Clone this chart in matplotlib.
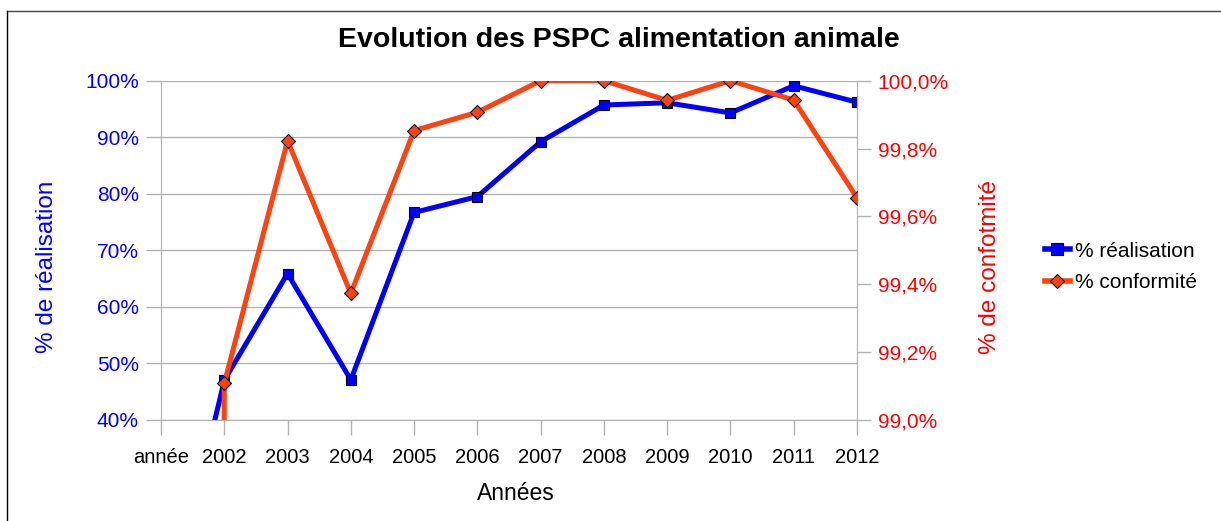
import matplotlib
matplotlib.use("Agg")
import matplotlib.pyplot as plt
from matplotlib.lines import Line2D
from matplotlib.ticker import FuncFormatter

# data
categories = ["année", "2002", "2003", "2004", "2005", "2006", "2007",
              "2008", "2009", "2010", "2011", "2012"]
realisation = [0.0, 47.0, 65.9, 47.1, 76.7, 79.5, 89.2, 95.7, 96.1, 94.3, 99.1, 96.2]
conformite = [0.0, 99.108, 99.823, 99.373, 99.853, 99.907, 100.0, 100.0,
              99.942, 100.0, 99.943, 99.655]

BLUE = "#0000ff"
ORANGE = "#ff420e"
RED = "#ff0000"
GRID = "#b3b3b3"

plt.rcParams['font.family'] = ['Liberation Sans', 'DejaVu Sans']

W, H = 1221, 521
fig = plt.figure(figsize=(W / 100, H / 100), dpi=100)
ax = fig.add_axes([161 / W, 1 - 420 / H, (857 - 161) / W, (420 - 80.7) / H])
ax2 = ax.twinx()

x = list(range(len(categories)))
ax.plot(x, realisation, color=BLUE, lw=3.6, marker="s", ms=6.8,
        mfc=BLUE, mec="black", mew=0.8, zorder=3)
ax2.plot(x, conformite, color=ORANGE, lw=3.6, marker="D", ms=6.8,
         mfc=ORANGE, mec="black", mew=0.8, zorder=3)

ax.set_xlim(0, 11)
ax.set_ylim(40, 100)
ax2.set_ylim(99.0, 100.0)
ax.set_yticks(range(40, 101, 10))
ax2.set_yticks([99.0, 99.2, 99.4, 99.6, 99.8, 100.0])
ax.yaxis.set_major_formatter(FuncFormatter(lambda v, p: "%d%%" % v))
ax2.yaxis.set_major_formatter(FuncFormatter(lambda v, p: ("%.1f%%" % v).replace(".", ",")))

ax.set_xticks(x)
ax.set_xticklabels(categories)
ax.tick_params(axis="x", length=11, width=1, color=GRID, pad=9,
               labelsize=14.5, labelcolor="black")
ax.tick_params(axis="y", length=11, width=1, color=GRID, labelsize=15,
               labelcolor=BLUE, pad=5)
ax2.tick_params(axis="y", length=10, width=1, color=GRID, labelsize=15,
                labelcolor=RED, pad=5)

ax.grid(axis="y", color=GRID, lw=1)
ax.set_axisbelow(True)
for a in (ax, ax2):
    for s in ("left", "right", "bottom"):
        a.spines[s].set_color(GRID)
    a.spines["top"].set_visible(False)

fig.text(47 / W, 1 - 267 / H, "% de réalisation", color=BLUE, fontsize=17.5,
         rotation=90, ha="center", va="center")
fig.text(990 / W, 1 - 267 / H, "% de confotmité", color=RED, fontsize=17.5,
         rotation=90, ha="center", va="center")
fig.text(516 / W, 1 - 494 / H, "Années", fontsize=16.5, ha="center", va="center")

fig.text(619 / W, 1 - 40 / H, "Evolution des PSPC alimentation animale",
         ha="center", va="center", fontsize=20.5, fontweight="bold")

handles = [
    Line2D([], [], color=BLUE, lw=4, marker="s", ms=8.5, mfc=BLUE, mec="black", mew=0.8),
    Line2D([], [], color=ORANGE, lw=4, marker="D", ms=7.5, mfc=ORANGE, mec="black", mew=0.8),
]
fig.legend(handles, ["% réalisation", "% conformité"], loc="center left",
           bbox_to_anchor=(1026 / W, 1 - 267 / H), frameon=False, fontsize=15,
           handlelength=1.2, handletextpad=0.25, labelspacing=0.6)

# outer frame (top and left edges only visible)
fig.add_artist(Line2D([7.5 / W, 1], [1 - 10.5 / H, 1 - 10.5 / H], color="#444444", lw=1,
                      transform=fig.transFigure))
fig.add_artist(Line2D([7.5 / W, 7.5 / W], [0, 1 - 10.5 / H], color="black", lw=1,
                      transform=fig.transFigure))

fig.savefig("out.png", dpi=100)
